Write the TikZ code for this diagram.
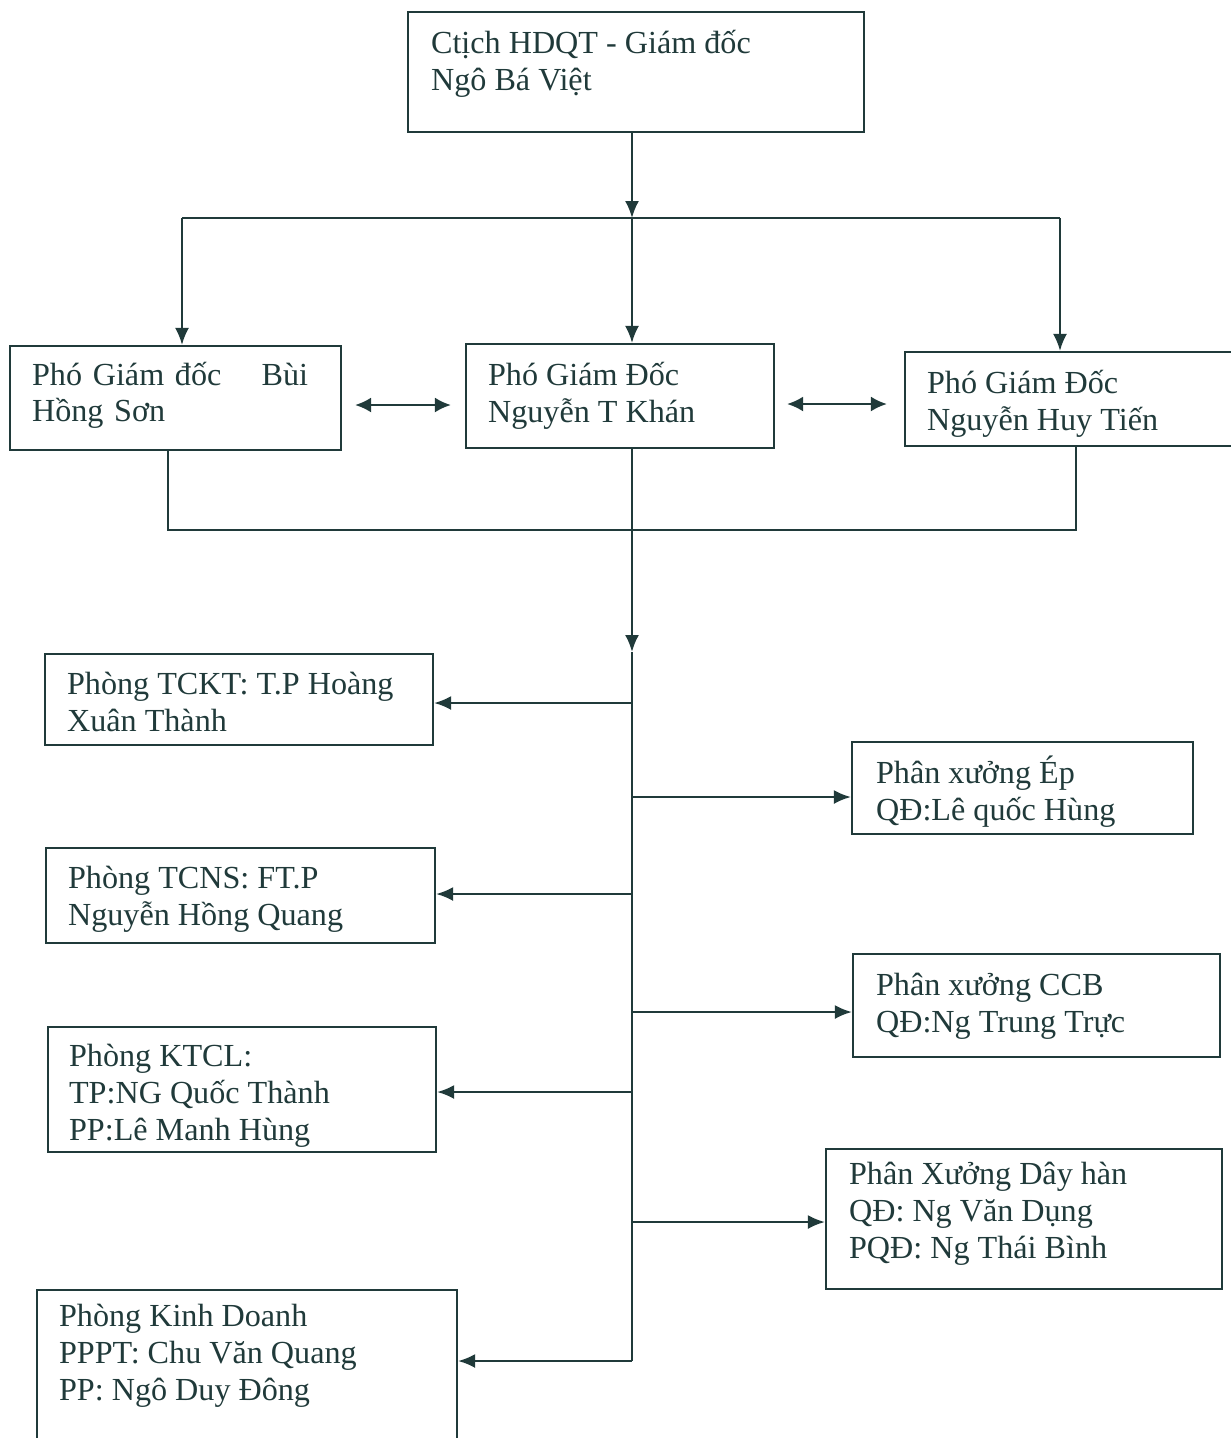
\documentclass[tikz,border=0pt]{standalone}
\usepackage{fontspec}
\setmainfont{Liberation Serif}
\usetikzlibrary{arrows.meta,fit}
\definecolor{ink}{RGB}{32,58,58}

\begin{document}
\begin{tikzpicture}[
    x=0.02cm, y=-0.02cm,
    line width=1.25pt, color=ink,
    box/.style={rectangle, draw=ink, inner sep=0pt},
    txt/.style={anchor=base west, inner sep=0pt, align=left, text=ink, font=\fontsize{18.3}{21}\selectfont},
    arr/.style={-{Latex[length=3.4mm,width=2.8mm]}},
    dbl/.style={{Latex[length=3.2mm,width=3mm]}-{Latex[length=3.2mm,width=3mm]}}
]
\useasboundingbox (0,0) rectangle (1231,1438);

% Chairman (text placed at its last baseline)
\node[box, fit={(408,12) (864,132)}] (ctich) {};
\node[txt] (ctichT) at (430,90) {Ctịch HDQT - Giám đốc\\Ngô Bá Việt};

% Vice directors
\node[box, fit={(10,346) (341,450)}] (pgdL) {};
\node[txt, text width=5.52cm] (pgdLT) at (31,385) {Phó Giám đốc\hfill Bùi\\Hồng Sơn};
\node[box, fit={(466,344) (774,448)}] (pgdM) {};
\node[txt] (pgdMT) at (487,422) {Phó Giám Đốc\\Nguyễn T Khán};
\node[box, fit={(905,352) (1240,446)}] (pgdR) {};
\node[txt] (pgdRT) at (926,430) {Phó Giám Đốc\\Nguyễn Huy Tiến};

% Offices (left)
\node[box, fit={(45,654) (433,745)}] (tckt) {};
\node[txt] (tcktT) at (66,731) {Phòng TCKT: T.P Hoàng\\Xuân Thành};
\node[box, fit={(46,848) (435,943)}] (tcns) {};
\node[txt] (tcnsT) at (67,925) {Phòng TCNS: FT.P\\Nguyễn Hồng Quang};
\node[box, fit={(48,1027) (436,1152)}] (ktcl) {};
\node[txt] (ktclT) at (68,1140) {Phòng KTCL:\\TP:NG Quốc Thành\\PP:Lê Manh Hùng};
\node[box, fit={(37,1290) (457,1450)}] (kd) {};
\node[txt] (kdT) at (58,1400) {Phòng Kinh Doanh\\PPPT: Chu Văn Quang\\PP: Ngô Duy Đông};

% Workshops (right)
\node[box, fit={(852,742) (1193,834)}] (xEp) {};
\node[txt] (xEpT) at (875,820) {Phân xưởng Ép\\QĐ:Lê quốc Hùng};
\node[box, fit={(853,954) (1220,1057)}] (xCCB) {};
\node[txt] (xCCBT) at (875,1032) {Phân xưởng CCB\\QĐ:Ng Trung Trực};
\node[box, fit={(826,1149) (1222,1289)}] (xDay) {};
\node[txt] (xDayT) at (848,1258) {Phân Xưởng Dây hàn\\QĐ: Ng Văn Dụng\\PQĐ: Ng Thái Bình};

% Top bus
\coordinate (busL) at (182,218);
\coordinate (busM) at (632,218);
\coordinate (busR) at (1060,218);
\draw (busL) -- (busR);
\draw[arr] (ctich.south -| busM) -- (busM);
\draw[arr] (busL) -- (busL |- pgdL.north);
\draw[arr] (busM) -- (busM |- pgdM.north);
\draw[arr] (busR) -- (busR |- pgdR.north);

% Between vice directors
\coordinate (h1) at (354,405);
\coordinate (h2) at (786,404);
\draw[dbl, shorten <=0.26cm, shorten >=0.28cm] (pgdL.east |- h1) -- (pgdM.west |- h1);
\draw[dbl, shorten <=0.24cm, shorten >=0.34cm] (pgdM.east |- h2) -- (pgdR.west |- h2);

% Collector and spine
\coordinate (jL) at (168,530);
\coordinate (jM) at (632,530);
\coordinate (jR) at (1076,530);
\coordinate (spTop) at (632,652);
\coordinate (spEnd) at (632,1361);
\draw (pgdL.south -| jL) -- (jL) -- (jR) -- (pgdR.south -| jR);
\draw[arr] (pgdM.south -| jM) -- (spTop);
\draw (spTop) -- (spEnd);

% Branches
\coordinate (l1) at (632,703);
\coordinate (l2) at (632,894);
\coordinate (l3) at (632,1092);
\coordinate (r1) at (632,797);
\coordinate (r2) at (632,1012);
\coordinate (r3) at (632,1222);
\draw[arr] (l1) -- (l1 -| tckt.east);
\draw[arr] (l2) -- (l2 -| tcns.east);
\draw[arr] (l3) -- (l3 -| ktcl.east);
\draw[arr] (spEnd) -- (spEnd -| kd.east);
\draw[arr] (r1) -- (r1 -| xEp.west);
\draw[arr] (r2) -- (r2 -| xCCB.west);
\draw[arr] (r3) -- (r3 -| xDay.west);

\end{tikzpicture}
\end{document}
